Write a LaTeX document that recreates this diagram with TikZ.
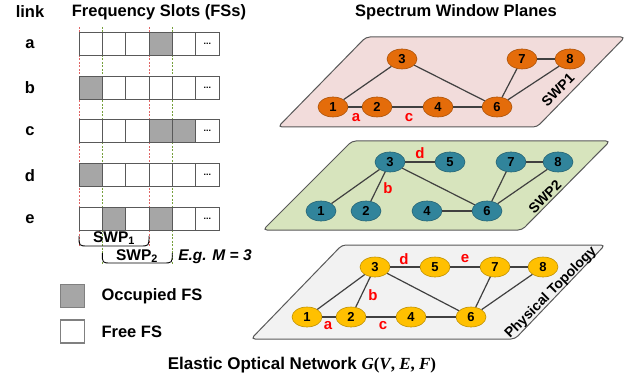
\documentclass[tikz,border=0pt]{standalone}
\usepackage{fontspec}
\setmainfont{Liberation Sans}
\newfontfamily\timesfont{Liberation Serif}
\usetikzlibrary{shapes.geometric}

\definecolor{slotgray}{HTML}{A6A6A6}
\definecolor{edgegray}{HTML}{404040}
\definecolor{swpone}{HTML}{F2DCDB}
\definecolor{swptwo}{HTML}{D7E4BD}
\definecolor{phys}{HTML}{F2F2F2}
\definecolor{orangenode}{HTML}{E46C0A}
\definecolor{tealnode}{HTML}{31849B}
\definecolor{yellownode}{HTML}{FFC000}
\definecolor{dashred}{HTML}{E06666}
\definecolor{dashgreen}{HTML}{76A03C}

\begin{document}
\begin{tikzpicture}[x=1pt,y=-1pt,
  slot/.style={draw=black!65,fill=white,line width=0.9pt,minimum width=23.3pt,minimum height=23pt,inner sep=0pt,outer sep=0pt},
  vtx/.style={ellipse,draw=#1!75!black,fill=#1,line width=0.6pt,minimum width=30pt,minimum height=20pt,inner sep=0pt,font=\fontsize{13}{13}\bfseries},
  link/.style={draw=edgegray,line width=1.2pt},
  lbl/.style={text=red,font=\fontsize{15}{15}\bfseries},
  plane/.style={draw=black!65,line width=1pt,rounded corners=4pt},
  head/.style={font=\fontsize{16.5}{16.5}\bfseries},
  guide/.style={line width=0.6pt,dash pattern=on 2pt off 1.5pt}]
\useasboundingbox (0,0) rectangle (634,382);

\node[head] (linkhd) at (30,12) {link};
\node[head] (fshd) at (159,12) {Frequency Slots (FSs)};
\node[head] (planehd) at (456,12) {Spectrum Window Planes};

% window borders
\draw[guide,dashred] (79,27) -- (79,247);
\draw[guide,dashred] (149,27) -- (149,247);
\draw[guide,dashgreen] (102.3,27) -- (102.3,264);
\draw[guide,dashgreen] (172.3,27) -- (172.3,264);

% slots of each link
\foreach \r/\y in {a/43.7,b/87.7,c/131.3,d/175.2,e/218.7}{
  \node[head] (lk\r) at (30,\y) {\r};
  \foreach \i in {0,...,4}
    \node[slot] (\r\i) at ({90.7+23.33*\i},\y) {};
  \node[slot,font=\fontsize{9}{9}\bfseries] (\r5) at (207.3,\y) {...};
}
\foreach \s in {a3,b0,c3,c4,d0,e1,e3}
  \filldraw[fill=slotgray,draw=black!65,line width=0.9pt] (\s.north west) rectangle (\s.south east);

\draw[line width=0.9pt] (79,236) .. controls (79,246) .. (88,246) -- (140,246) .. controls (149,246) .. (149,236);
\draw[line width=0.9pt] (102.3,253) .. controls (102.3,263) .. (111,263) -- (163,263) .. controls (172.3,263) .. (172.3,253);
\node[font=\fontsize{15.5}{15.5}\bfseries] (swpa) at (114,238) {SWP\textsubscript{1}};
\node[font=\fontsize{15.5}{15.5}\bfseries] (swpb) at (137,256) {SWP\textsubscript{2}};
\node[font=\fontsize{15.5}{15.5}\bfseries\itshape] (eg) at (215,257) {E.g. M = 3};

% legend
\node[slot,draw=black!50,fill=slotgray,line width=1.2pt] (occ) at (72.5,296) {};
\node[slot,draw=black!50,line width=1.2pt] (free) at (72.5,331.5) {};
\node[head,anchor=west] (occtxt) at (98,296) {Occupied FS};
\node[head,anchor=west] (freetxt) at (98,331.5) {Free FS};

% SWP1
\draw[plane,fill=swpone] (278,127) -- (366,37) -- (625,37) -- (537,127) -- cycle;
\foreach \n/\x/\y in {1/333/107,2/377/107,3/402/59,4/438/107,6/497/107,7/522/59,8/570/59}
  \node[vtx=orangenode] (s1n\n) at (\x,\y) {\n};
\foreach \a/\b in {1/3,1/2,2/4,4/6,3/6,6/7,6/8,7/8}
  \draw[link] (s1n\a) -- (s1n\b);
\node[lbl] (s1a) at (356,118) {a};
\node[lbl] (s1c) at (409,118) {c};
\node[rotate=45,font=\fontsize{14}{14}\bfseries] (s1name) at (558,90) {SWP1};

% SWP2
\draw[plane,fill=swptwo] (263,230) -- (352,141) -- (610,141) -- (522,230) -- cycle;
\foreach \n/\x/\y in {1/321/211,2/366/211,3/390/162,4/427/211,5/450/162,6/487/211,7/511/162,8/558/162}
  \node[vtx=tealnode] (s2n\n) at (\x,\y) {\n};
\foreach \a/\b in {3/5,3/1,3/2,3/6,4/6,6/7,6/8,7/8}
  \draw[link] (s2n\a) -- (s2n\b);
\node[lbl] (s2d) at (420,153) {d};
\node[lbl] (s2b) at (388,188) {b};
\node[rotate=45,font=\fontsize{14}{14}\bfseries] (s2name) at (545,197) {SWP2};

% physical topology
\draw[plane,fill=phys] (251,339) -- (342,245) -- (605,245) -- (515,339) -- cycle;
\foreach \n/\x/\y in {1/307/317,2/351/317,3/375/267,4/411/317,5/435/267,6/471/317,7/495/267,8/543/267}
  \node[vtx=yellownode] (phn\n) at (\x,\y) {\n};
\foreach \a/\b in {1/3,1/2,2/3,2/4,4/6,3/6,3/5,5/7,7/8,7/6,6/8}
  \draw[link] (phn\a) -- (phn\b);
\node[lbl] (pha) at (328,326) {a};
\node[lbl] (phb) at (373,295) {b};
\node[lbl] (phc) at (383,326) {c};
\node[lbl] (phd) at (404,259) {d};
\node[lbl] (phe) at (465,259) {e};
\node[rotate=45,font=\fontsize{14}{14}\bfseries] (phname) at (551,293) {Physical Topology};

\node[font=\fontsize{17}{17}\bfseries] (title) at (302,365) {Elastic Optical Network {\timesfont\bfseries\itshape G\upshape(\itshape V\upshape, \itshape E\upshape, \itshape F\upshape)}};
\end{tikzpicture}
\end{document}
